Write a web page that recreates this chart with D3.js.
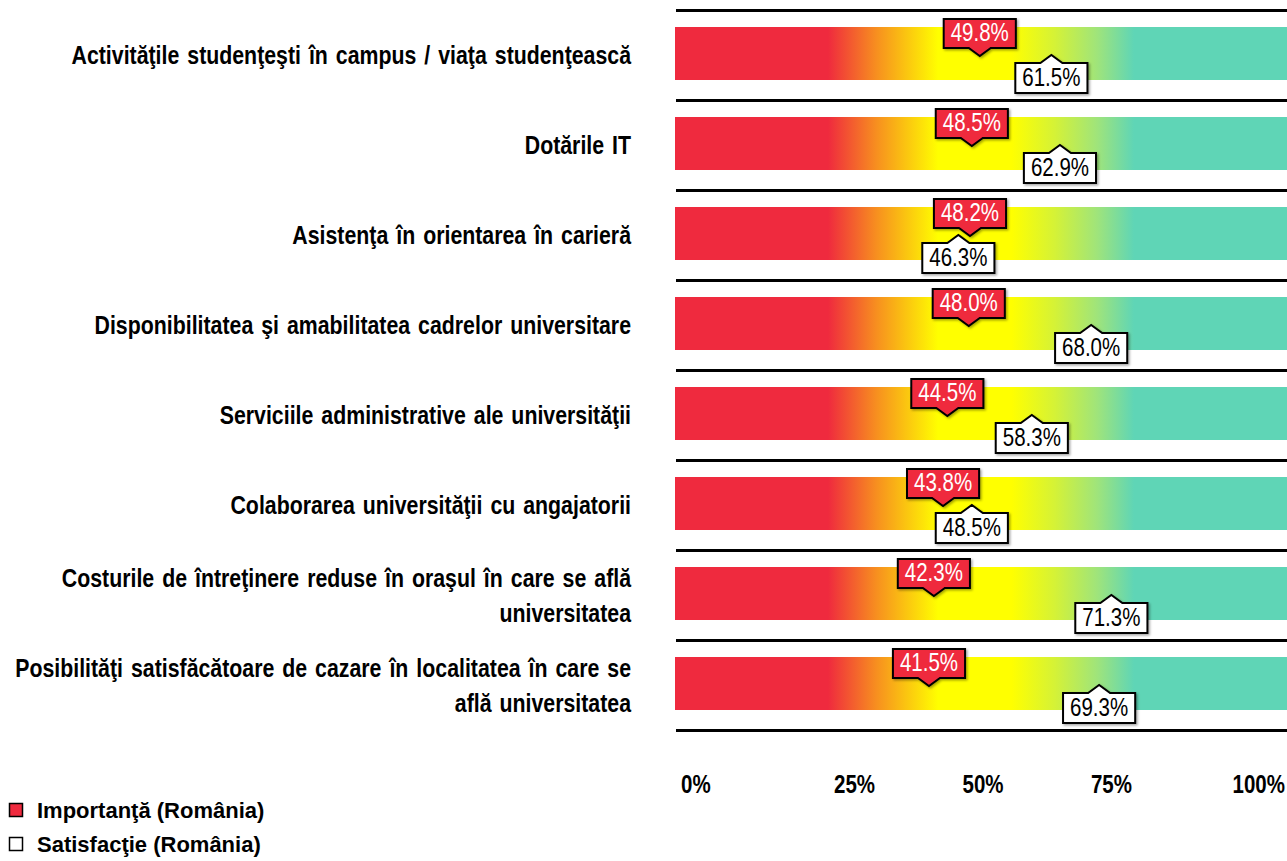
<!DOCTYPE html>
<html>
<head>
<meta charset="utf-8">
<script src="https://cdn.jsdelivr.net/npm/d3@7"></script>
<style>
  html, body { margin: 0; padding: 0; background: #fff; }
  svg { display: block; }
</style>
</head>
<body>
<div id="container"><svg></svg></div>
<script>
let width = 1287;
let height = 861;

// data
let categories = [
    "Activităţile studenţeşti în campus / viaţa studenţească",
    "Dotările IT",
    "Asistenţa în orientarea în carieră",
    "Disponibilitatea şi amabilitatea cadrelor universitare",
    "Serviciile administrative ale universităţii",
    "Colaborarea universităţii cu angajatorii",
    "Costurile de întreţinere reduse în oraşul în care se află\nuniversitatea",
    "Posibilităţi satisfăcătoare de cazare în localitatea în care se\nafla universitatea".replace("afla univ", "află univ")
];
let importance = [49.8, 48.5, 48.2, 48.0, 44.5, 43.8, 42.3, 41.5];
let satisfaction = [61.5, 62.9, 46.3, 68.0, 58.3, 48.5, 71.3, 69.3];
let tickValues = [0, 25, 50, 75, 100];
let tickLabels = ["0%", "25%", "50%", "75%", "100%"];
let legendLabels = ["Importanţă (România)", "Satisfacţie (România)"];

// does the narrow face exist? if not squeeze the normal one
function hasFont(name) {
    let c = document.createElement("canvas").getContext("2d");
    c.font = "40px monospace";
    let a = c.measureText("mmmmmIIIIIwwww").width;
    c.font = "40px '" + name + "', monospace";
    let b = c.measureText("mmmmmIIIIIwwww").width;
    return a !== b;
}
let hasNarrow = hasFont("Liberation Sans Narrow");
let narrowFamily = hasNarrow ? "'Liberation Sans Narrow', 'Arial Narrow', sans-serif" : "'Liberation Sans', Arial, sans-serif";
let squeeze = hasNarrow ? 1 : 0.82;

function narrowText(parent, x, y, str, size, weight, anchor, fill) {
    return parent.append("text")
        .attr("transform", `translate(${x},${y}) scale(${squeeze},1)`)
        .attr("font-family", narrowFamily)
        .attr("font-size", size)
        .attr("font-weight", weight)
        .attr("text-anchor", anchor)
        .attr("fill", fill)
        .text(str);
}

function draw_chart() {
    let svg = d3.select("#container").select("svg")
        .attr("width", width)
        .attr("height", height);

    let x = d3.scaleLinear().domain([0, 100]).range([675, 1287]);
    let y = d3.scaleBand().domain(categories).range([10, 730]);

    // gradient for the bars
    let defs = svg.append("defs");
    let grad = defs.append("linearGradient")
        .attr("id", "bargrad")
        .attr("gradientUnits", "userSpaceOnUse")
        .attr("x1", x(0)).attr("x2", x(100))
        .attr("y1", 0).attr("y2", 0);
    let stops = [
        [0, "#ef2a3e"], [25, "#ef2a3e"], [33, "#f7901f"], [43, "#ffff00"],
        [55, "#ffff00"], [62, "#d5f236"], [69, "#9fe47b"], [75, "#5fd5b6"], [100, "#5fd5b6"]
    ];
    grad.selectAll("stop").data(stops).join("stop")
        .attr("offset", d => d[0] + "%")
        .attr("stop-color", d => d[1]);

    let filt = defs.append("filter").attr("id", "shadow")
        .attr("x", "-10%").attr("y", "-10%").attr("width", "130%").attr("height", "140%");
    filt.append("feDropShadow")
        .attr("dx", 1.5).attr("dy", 1.5).attr("stdDeviation", 0.8)
        .attr("flood-color", "#000").attr("flood-opacity", 0.35);

    // bars
    svg.append("g").selectAll("rect")
        .data(categories)
        .join("rect")
        .attr("x", x(0))
        .attr("y", d => y(d) + 17)
        .attr("width", x(100) - x(0))
        .attr("height", 53)
        .attr("fill", "url(#bargrad)");

    // separator lines
    let linePos = categories.map(d => y(d)).concat([y.range()[1]]);
    svg.append("g").selectAll("line")
        .data(linePos)
        .join("line")
        .attr("x1", x(0) + 1)
        .attr("x2", x(100))
        .attr("y1", d => d + 0.5)
        .attr("y2", d => d + 0.5)
        .attr("stroke", "#000")
        .attr("stroke-width", 3);

    // category labels
    let labG = svg.append("g");
    categories.forEach(function (c) {
        let lines = c.split("\n");
        let mid = y(c) + y.bandwidth() / 2;
        let step = 35;
        lines.forEach(function (ln, k) {
            let cy = mid + (k - (lines.length - 1) / 2) * step;
            narrowText(labG, 631, cy + 9, ln, 26, "bold", "end", "#000")
                .attr("word-spacing", 2.5);
        });
    });

    // value callouts
    let boxH = 30, half = 11;
    let callG = svg.append("g");
    categories.forEach(function (c, i) {
        let top = y(c);

        // satisfaction (white, pointer up)
        let sx = x(satisfaction[i]);
        let sg = callG.append("g");
        let st = narrowText(sg, sx, top + 76, satisfaction[i].toFixed(1) + "%", 25, "normal", "middle", "#000");
        let sw = st.node().getBBox().width * squeeze + 14;
        let sl = sx - sw / 2, sr = sx + sw / 2, stp = top + 53, sb = top + 83;
        sg.insert("path", "text")
            .attr("d", `M${sl},${stp}L${sx - half},${stp}L${sx},${top + 45}L${sx + half},${stp}L${sr},${stp}L${sr},${sb}L${sl},${sb}Z`)
            .attr("fill", "#fff")
            .attr("stroke", "#000")
            .attr("stroke-width", 2)
            .attr("stroke-linejoin", "miter")
            .attr("filter", "url(#shadow)");

        // importance (red, pointer down)
        let ix = x(importance[i]);
        let ig = callG.append("g");
        let it = narrowText(ig, ix, top + 31, importance[i].toFixed(1) + "%", 25, "normal", "middle", "#fff");
        let iw = it.node().getBBox().width * squeeze + 14;
        let il = ix - iw / 2, ir = ix + iw / 2, itp = top + 9, ib = top + 38;
        ig.insert("path", "text")
            .attr("d", `M${il},${itp}L${ir},${itp}L${ir},${ib}L${ix + half},${ib}L${ix},${top + 46}L${ix - half},${ib}L${il},${ib}Z`)
            .attr("fill", "#ef2a3e")
            .attr("stroke", "#000")
            .attr("stroke-width", 2)
            .attr("filter", "url(#shadow)");
    });

    // axis labels at the bottom
    let tickG = svg.append("g");
    tickValues.forEach(function (v, k) {
        let anchor = k < 2 ? "start" : (k === 2 ? "middle" : "end");
        let off = k < 2 ? 6 : (k === 2 ? 2 : -2);
        narrowText(tickG, x(v) + off, 793, tickLabels[k], 25, "bold", anchor, "#000");
    });

    // legend
    let leg = svg.append("g");
    let legFill = ["#ef2a3e", "#fff"];
    legendLabels.forEach(function (lab, k) {
        let ly = 810 + k * 34;
        leg.append("rect")
            .attr("x", 9.5).attr("y", ly - 6.5)
            .attr("width", 13).attr("height", 13)
            .attr("fill", legFill[k])
            .attr("stroke", "#000")
            .attr("stroke-width", 1.5);
        leg.append("text")
            .attr("x", 37).attr("y", ly + 8)
            .attr("font-family", "'Liberation Sans', Arial, sans-serif")
            .attr("font-weight", "bold")
            .attr("font-size", 22)
            .text(lab);
    });
}

draw_chart();
</script>
</body>
</html>
